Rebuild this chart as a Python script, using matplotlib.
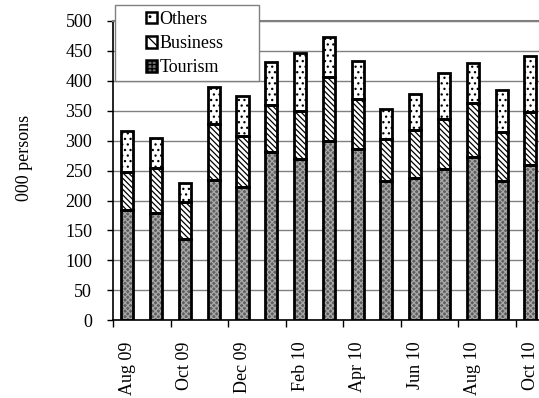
import numpy as np
import matplotlib
matplotlib.use("Agg")
import matplotlib.pyplot as plt
from matplotlib.patches import Patch, Rectangle

months = ["Aug 09", "Sep 09", "Oct 09", "Nov 09", "Dec 09", "Jan 10", "Feb 10",
          "Mar 10", "Apr 10", "May 10", "Jun 10", "Jul 10", "Aug 10", "Sep 10", "Oct 10"]
tourism = [184, 179, 136, 234, 223, 281, 270, 300, 286, 232, 237, 253, 273, 232, 260]
business = [63, 76, 61, 93, 85, 78, 80, 106, 83, 70, 80, 83, 90, 83, 87]
others = [69, 50, 32, 63, 67, 72, 96, 67, 64, 50, 60, 76, 66, 70, 94]

plt.rcParams['font.family'] = ['Liberation Serif', 'DejaVu Serif']
plt.rcParams['font.size'] = 13
plt.rcParams['hatch.linewidth'] = 0.9

fig = plt.figure(figsize=(5.39, 3.98), dpi=100)
ax = fig.add_axes([0.2096, 0.195, 0.7904, 0.753])

x = np.arange(len(months))
w = 0.42
tour = np.array(tourism)
bus = np.array(business)
oth = np.array(others)

# fills with hatch first, then black outlines on top
ax.bar(x, tour, w, color='#5e5e5e', edgecolor='#a8a8a8', hatch='xxxxxx', linewidth=0, zorder=2)
ax.bar(x, bus, w, bottom=tour, color='white', edgecolor='black', hatch='\\\\\\\\\\\\', linewidth=0, zorder=2)
ax.bar(x, oth, w, bottom=tour + bus, color='white', edgecolor='black', hatch='...', linewidth=0, zorder=2)
for vals, bot in [(tour, 0), (bus, tour), (oth, tour + bus)]:
    ax.bar(x, vals, w, bottom=bot, fill=False, edgecolor='black', linewidth=2, zorder=3)

ax.set_ylim(0, 500)
ax.set_xlim(-0.5, 14.3)
ax.set_yticks(range(0, 501, 50))
ax.yaxis.grid(True, color='#808080', linewidth=1, zorder=0)
ax.set_axisbelow(True)

ax.set_xticks(x[::2])
ax.set_xticklabels(months[::2], rotation=90)
ax.set_xticks(np.arange(-0.5, 15, 2), minor=True)
ax.tick_params(axis='x', which='major', length=0, pad=15)
ax.tick_params(axis='x', which='minor', length=5, width=1, direction='out')
ax.tick_params(axis='y', length=4, width=1, pad=11)

ax.spines['right'].set_visible(False)
ax.spines['top'].set_color('#808080')
ax.spines['top'].set_linewidth(1.5)
ax.spines['left'].set_linewidth(1.2)
ax.spines['bottom'].set_linewidth(1.2)

fig.text(25 / 539, 1 - 158 / 398, '000 persons', rotation=90, ha='center', va='center')

# legend box is wider than its content, so draw the frame separately
box = Rectangle((115 / 539, 1 - 81 / 398), 144 / 539, 76 / 398, transform=fig.transFigure,
                facecolor='white', edgecolor='#808080', linewidth=1, zorder=4)
fig.add_artist(box)

handles = [
    Patch(facecolor='white', edgecolor='black', hatch='..', linewidth=1.8),
    Patch(facecolor='white', edgecolor='black', hatch='\\\\\\', linewidth=1.8),
    Patch(facecolor='#6e6e6e', edgecolor='black', hatch='++++', linewidth=1.8),
]
leg = fig.legend(handles, ['Others', 'Business', 'Tourism'],
                 loc='upper left', bbox_to_anchor=(146 / 539, 1 - 11 / 398),
                 frameon=False, handlelength=0.6, handleheight=0.6,
                 handletextpad=0.15, borderpad=0, labelspacing=0.4,
                 borderaxespad=0, fontsize=13)
leg.set_zorder(5)

fig.savefig('out.png', dpi=100)
